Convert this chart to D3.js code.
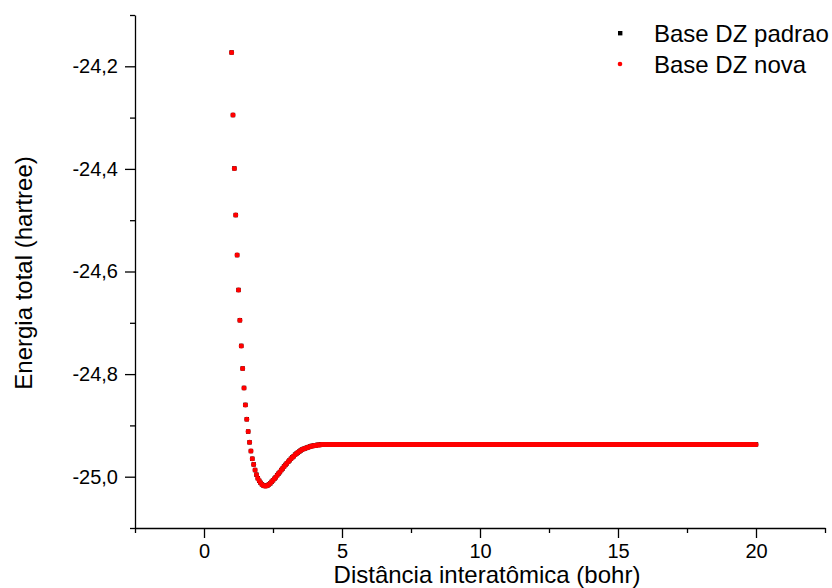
<html>
<head>
<script src="https://cdnjs.cloudflare.com/ajax/libs/d3/7.8.5/d3.min.js"></script>
<style>
    body { margin: 0; background: #fff; }
    text { font-family: "Liberation Sans", Arial, sans-serif; }
</style>
</head>
<body>
<script>

// distancia interatomica (bohr), passo 0,05
var distancia = [
 1,1.05,1.1,1.15,1.2,1.25,1.3,1.35,1.4,1.45,1.5,1.55,1.6,1.65,1.7,1.75,1.8,1.85,1.9,1.95,
 2,2.05,2.1,2.15,2.2,2.25,2.3,2.35,2.4,2.45,2.5,2.55,2.6,2.65,2.7,2.75,2.8,2.85,2.9,2.95,
 3,3.05,3.1,3.15,3.2,3.25,3.3,3.35,3.4,3.45,3.5,3.55,3.6,3.65,3.7,3.75,3.8,3.85,3.9,3.95,
 4,4.05,4.1,4.15,4.2,4.25,4.3,4.35,4.4,4.45,4.5,4.55,4.6,4.65,4.7,4.75,4.8,4.85,4.9,4.95,
 5,5.05,5.1,5.15,5.2,5.25,5.3,5.35,5.4,5.45,5.5,5.55,5.6,5.65,5.7,5.75,5.8,5.85,5.9,5.95,
 6,6.05,6.1,6.15,6.2,6.25,6.3,6.35,6.4,6.45,6.5,6.55,6.6,6.65,6.7,6.75,6.8,6.85,6.9,6.95,
 7,7.05,7.1,7.15,7.2,7.25,7.3,7.35,7.4,7.45,7.5,7.55,7.6,7.65,7.7,7.75,7.8,7.85,7.9,7.95,
 8,8.05,8.1,8.15,8.2,8.25,8.3,8.35,8.4,8.45,8.5,8.55,8.6,8.65,8.7,8.75,8.8,8.85,8.9,8.95,
 9,9.05,9.1,9.15,9.2,9.25,9.3,9.35,9.4,9.45,9.5,9.55,9.6,9.65,9.7,9.75,9.8,9.85,9.9,9.95,
 10,10.05,10.1,10.15,10.2,10.25,10.3,10.35,10.4,10.45,10.5,10.55,10.6,10.65,10.7,10.75,10.8,10.85,10.9,10.95,
 11,11.05,11.1,11.15,11.2,11.25,11.3,11.35,11.4,11.45,11.5,11.55,11.6,11.65,11.7,11.75,11.8,11.85,11.9,11.95,
 12,12.05,12.1,12.15,12.2,12.25,12.3,12.35,12.4,12.45,12.5,12.55,12.6,12.65,12.7,12.75,12.8,12.85,12.9,12.95,
 13,13.05,13.1,13.15,13.2,13.25,13.3,13.35,13.4,13.45,13.5,13.55,13.6,13.65,13.7,13.75,13.8,13.85,13.9,13.95,
 14,14.05,14.1,14.15,14.2,14.25,14.3,14.35,14.4,14.45,14.5,14.55,14.6,14.65,14.7,14.75,14.8,14.85,14.9,14.95,
 15,15.05,15.1,15.15,15.2,15.25,15.3,15.35,15.4,15.45,15.5,15.55,15.6,15.65,15.7,15.75,15.8,15.85,15.9,15.95,
 16,16.05,16.1,16.15,16.2,16.25,16.3,16.35,16.4,16.45,16.5,16.55,16.6,16.65,16.7,16.75,16.8,16.85,16.9,16.95,
 17,17.05,17.1,17.15,17.2,17.25,17.3,17.35,17.4,17.45,17.5,17.55,17.6,17.65,17.7,17.75,17.8,17.85,17.9,17.95,
 18,18.05,18.1,18.15,18.2,18.25,18.3,18.35,18.4,18.45,18.5,18.55,18.6,18.65,18.7,18.75,18.8,18.85,18.9,18.95,
 19,19.05,19.1,19.15,19.2,19.25,19.3,19.35,19.4,19.45,19.5,19.55,19.6,19.65,19.7,19.75,19.8,19.85,19.9,19.95,
 20
];

// energia total (hartree)
var energiaNova = [
 -24.173,-24.295,-24.399,-24.490,-24.568,-24.636,-24.695,-24.745,-24.789,-24.827,-24.860,-24.888,-24.912,-24.933,-24.950,-24.965,-24.976,-24.987,-24.996,-25.003,
 -25.008,-25.012,-25.015,-25.017,-25.018,-25.018,-25.017,-25.015,-25.013,-25.010,-25.007,-25.004,-25.001,-24.997,-24.994,-24.991,-24.987,-24.984,-24.980,-24.977,
 -24.974,-24.971,-24.968,-24.965,-24.962,-24.960,-24.957,-24.955,-24.953,-24.951,-24.949,-24.947,-24.946,-24.945,-24.944,-24.943,-24.942,-24.941,-24.940,-24.940,
 -24.939,-24.939,-24.938,-24.938,-24.938,-24.937,-24.937,-24.937,-24.937,-24.937,-24.937,-24.937,-24.937,-24.937,-24.937,-24.937,-24.937,-24.937,-24.937,-24.937,
 -24.937,-24.937,-24.937,-24.937,-24.937,-24.937,-24.937,-24.937,-24.937,-24.937,-24.937,-24.937,-24.937,-24.937,-24.937,-24.937,-24.937,-24.937,-24.937,-24.937,
 -24.937,-24.937,-24.937,-24.937,-24.937,-24.937,-24.937,-24.937,-24.937,-24.937,-24.937,-24.937,-24.937,-24.937,-24.937,-24.937,-24.937,-24.937,-24.937,-24.937,
 -24.937,-24.937,-24.937,-24.937,-24.937,-24.937,-24.937,-24.937,-24.937,-24.937,-24.937,-24.937,-24.937,-24.937,-24.937,-24.937,-24.937,-24.937,-24.937,-24.937,
 -24.937,-24.937,-24.937,-24.937,-24.937,-24.937,-24.937,-24.937,-24.937,-24.937,-24.937,-24.937,-24.937,-24.937,-24.937,-24.937,-24.937,-24.937,-24.937,-24.937,
 -24.937,-24.937,-24.937,-24.937,-24.937,-24.937,-24.937,-24.937,-24.937,-24.937,-24.937,-24.937,-24.937,-24.937,-24.937,-24.937,-24.937,-24.937,-24.937,-24.937,
 -24.937,-24.937,-24.937,-24.937,-24.937,-24.937,-24.937,-24.937,-24.937,-24.937,-24.937,-24.937,-24.937,-24.937,-24.937,-24.937,-24.937,-24.937,-24.937,-24.937,
 -24.937,-24.937,-24.937,-24.937,-24.937,-24.937,-24.937,-24.937,-24.937,-24.937,-24.937,-24.937,-24.937,-24.937,-24.937,-24.937,-24.937,-24.937,-24.937,-24.937,
 -24.937,-24.937,-24.937,-24.937,-24.937,-24.937,-24.937,-24.937,-24.937,-24.937,-24.937,-24.937,-24.937,-24.937,-24.937,-24.937,-24.937,-24.937,-24.937,-24.937,
 -24.937,-24.937,-24.937,-24.937,-24.937,-24.937,-24.937,-24.937,-24.937,-24.937,-24.937,-24.937,-24.937,-24.937,-24.937,-24.937,-24.937,-24.937,-24.937,-24.937,
 -24.937,-24.937,-24.937,-24.937,-24.937,-24.937,-24.937,-24.937,-24.937,-24.937,-24.937,-24.937,-24.937,-24.937,-24.937,-24.937,-24.937,-24.937,-24.937,-24.937,
 -24.937,-24.937,-24.937,-24.937,-24.937,-24.937,-24.937,-24.937,-24.937,-24.937,-24.937,-24.937,-24.937,-24.937,-24.937,-24.937,-24.937,-24.937,-24.937,-24.937,
 -24.937,-24.937,-24.937,-24.937,-24.937,-24.937,-24.937,-24.937,-24.937,-24.937,-24.937,-24.937,-24.937,-24.937,-24.937,-24.937,-24.937,-24.937,-24.937,-24.937,
 -24.937,-24.937,-24.937,-24.937,-24.937,-24.937,-24.937,-24.937,-24.937,-24.937,-24.937,-24.937,-24.937,-24.937,-24.937,-24.937,-24.937,-24.937,-24.937,-24.937,
 -24.937,-24.937,-24.937,-24.937,-24.937,-24.937,-24.937,-24.937,-24.937,-24.937,-24.937,-24.937,-24.937,-24.937,-24.937,-24.937,-24.937,-24.937,-24.937,-24.937,
 -24.937,-24.937,-24.937,-24.937,-24.937,-24.937,-24.937,-24.937,-24.937,-24.937,-24.937,-24.937,-24.937,-24.937,-24.937,-24.937,-24.937,-24.937,-24.937,-24.937,
 -24.937
];

// a base padrao fica escondida sob a nova (valores iguais no grafico)
var energiaPadrao = energiaNova;

var seriesNomes = ["Base DZ padrao", "Base DZ nova"];
var seriesCores = ["#000000", "#ff0000"];
var xTicks = [0, 5, 10, 15, 20];
var xMinor = [-2.5, 2.5, 7.5, 12.5, 17.5, 22.5];
var yTicks = [-25.0, -24.8, -24.6, -24.4, -24.2];
var yMinor = [-25.1, -24.9, -24.7, -24.5, -24.3, -24.1];

var width = 832, height = 588;
var mLeft = 135, mRight = 825, mTop = 15, mBottom = 528;

var svg = d3.select("body").append("svg")
    .attr("width", width)
    .attr("height", height);

var x = d3.scaleLinear().domain([-2.5, 22.5]).range([mLeft, mRight]);
var y = d3.scaleLinear().domain([-25.1, -24.1]).range([mBottom, mTop]);

var br = d3.formatLocale({decimal: ",", thousands: ".", grouping: [3], currency: ["R$", ""], minus: "-"});
var fmtY = br.format(".1f");
var fmtX = br.format("d");

// eixo x
var gx = svg.append("g").attr("transform", "translate(0," + mBottom + ")");
gx.call(d3.axisBottom(x).tickValues(xMinor).tickSize(5).tickSizeOuter(0).tickFormat(""));
gx.call(g => g.select(".domain").remove());
var gx2 = svg.append("g").attr("transform", "translate(0," + mBottom + ")");
gx2.call(d3.axisBottom(x).tickValues(xTicks).tickSize(10).tickSizeOuter(0).tickPadding(6).tickFormat(fmtX));

// eixo y
var gy = svg.append("g").attr("transform", "translate(" + mLeft + ",0)");
gy.call(d3.axisLeft(y).tickValues(yMinor).tickSize(5).tickSizeOuter(0).tickFormat(""));
gy.call(g => g.select(".domain").remove());
var gy2 = svg.append("g").attr("transform", "translate(" + mLeft + ",0)");
gy2.call(d3.axisLeft(y).tickValues(yTicks).tickSize(10).tickSizeOuter(0).tickPadding(7).tickFormat(fmtY));

svg.selectAll(".domain, .tick line").attr("stroke", "#000").attr("stroke-width", 1.3);
svg.selectAll(".tick text").attr("fill", "#000").style("font-size", "20px").style("font-family", "\"Liberation Sans\", Arial, sans-serif");

// titulos
svg.append("text")
    .attr("x", 487).attr("y", 583)
    .attr("text-anchor", "middle")
    .style("font-size", "24px")
    .text("Distância interatômica (bohr)");

svg.append("text")
    .attr("transform", "translate(32,273) rotate(-90)")
    .attr("text-anchor", "middle")
    .style("font-size", "24px")
    .text("Energia total (hartree)");

// dados
var pontos = distancia.map((d, i) => ({x: d, padrao: energiaPadrao[i], nova: energiaNova[i]}));

svg.append("g").selectAll("rect")
    .data(pontos).enter().append("rect")
    .attr("x", d => x(d.x) - 2.2)
    .attr("y", d => y(d.padrao) - 2.2)
    .attr("width", 4.4).attr("height", 4.4)
    .attr("fill", seriesCores[0]);

svg.append("g").selectAll("circle")
    .data(pontos).enter().append("circle")
    .attr("cx", d => x(d.x))
    .attr("cy", d => y(d.nova))
    .attr("r", 2.5)
    .attr("fill", seriesCores[1]);

// legenda
var leg = svg.append("g");
leg.append("rect").attr("x", 618).attr("y", 31).attr("width", 4.4).attr("height", 4.4).attr("fill", seriesCores[0]);
leg.append("circle").attr("cx", 620).attr("cy", 64).attr("r", 2.3).attr("fill", seriesCores[1]);
leg.selectAll("text.nome").data(seriesNomes).enter().append("text")
    .attr("class", "nome")
    .attr("x", 654)
    .attr("y", (d, i) => 42 + i * 31)
    .style("font-size", "24px")
    .text(d => d);

</script>
</body>
</html>
